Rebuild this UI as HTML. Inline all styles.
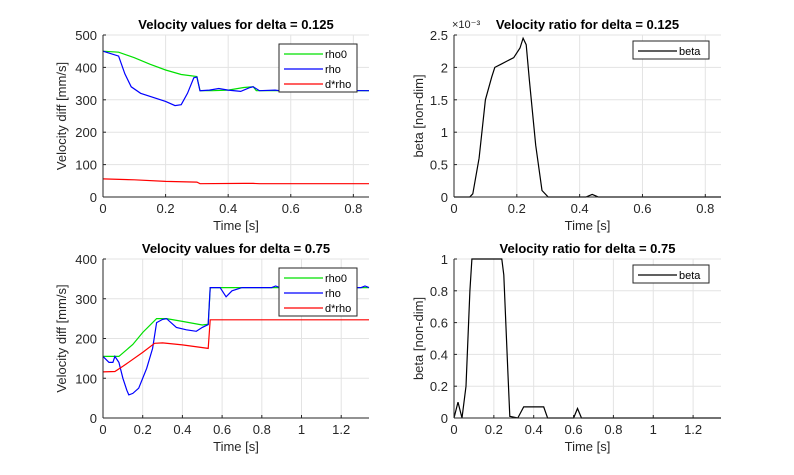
<!DOCTYPE html>
<html><head><meta charset="utf-8"><style>
body{margin:0;background:#fff;width:794px;height:470px;overflow:hidden}
svg{font-family:"Liberation Sans",sans-serif}
</style></head><body>
<svg id="fig" width="794" height="470" xmlns="http://www.w3.org/2000/svg"></svg>
<script>
// ---- data ----
const tlRho0=[[0,450],[0.05,447],[0.1,430],[0.15,410],[0.2,392],[0.25,378],[0.3,372],[0.31,328],[0.35,328],[0.4,330],[0.45,338],[0.48,340],[0.49,328],[0.6,328],[0.85,328]];
const tlRho=[[0,450],[0.05,435],[0.07,380],[0.09,340],[0.12,320],[0.2,295],[0.23,282],[0.25,285],[0.27,320],[0.29,368],[0.3,370],[0.31,328],[0.34,330],[0.37,335],[0.4,330],[0.44,326],[0.47,338],[0.48,340],[0.5,328],[0.55,330],[0.58,326],[0.6,330],[0.85,328]];
const tlDrho=[[0,56],[0.1,53],[0.2,48],[0.3,46],[0.31,41],[0.45,42],[0.48,42],[0.5,41],[0.85,41]];
const blRho0=[[0,155],[0.08,155],[0.15,185],[0.2,215],[0.27,250],[0.32,250],[0.4,243],[0.5,234],[0.53,236],[0.54,328],[0.6,328],[1.34,328]];
const blRho=[[0,155],[0.03,140],[0.05,140],[0.06,155],[0.08,140],[0.1,100],[0.12,70],[0.13,58],[0.15,62],[0.18,75],[0.22,125],[0.25,175],[0.27,240],[0.3,248],[0.32,250],[0.37,228],[0.42,222],[0.47,218],[0.5,228],[0.53,235],[0.54,328],[0.59,328],[0.62,305],[0.65,320],[0.7,328],[0.85,328],[0.87,332],[0.9,326],[1.0,328],[1.3,328],[1.32,332],[1.34,328]];
const blDrho=[[0,116],[0.06,117],[0.1,130],[0.2,165],[0.26,188],[0.3,189],[0.4,184],[0.53,175],[0.54,247],[1.34,247]];
const trBeta=[[0,0],[0.05,0],[0.06,0.05],[0.08,0.6],[0.1,1.5],[0.12,1.85],[0.13,2.0],[0.15,2.05],[0.17,2.1],[0.19,2.15],[0.21,2.3],[0.22,2.45],[0.23,2.35],[0.24,1.8],[0.26,0.8],[0.28,0.1],[0.3,0],[0.42,0],[0.44,0.04],[0.46,0],[0.85,0]];
const brBeta=[[0,0],[0.02,0.1],[0.03,0.05],[0.04,0],[0.06,0.2],[0.08,0.8],[0.09,1],[0.24,1],[0.25,0.9],[0.27,0.3],[0.28,0.01],[0.32,0],[0.35,0.07],[0.45,0.07],[0.47,0],[0.6,0],[0.62,0.06],[0.64,0],[1.34,0]];
const xTicksTop=[0,0.2,0.4,0.6,0.8];
const xTicksBot=[0,0.2,0.4,0.6,0.8,1,1.2];
const yTicksTL=[0,100,200,300,400,500];
const yTicksBL=[0,100,200,300,400];
const yTicksTR=[0,0.5,1,1.5,2,2.5];
const yTicksBR=[0,0.2,0.4,0.6,0.8,1];

const svg=document.getElementById('fig');
const NS='http://www.w3.org/2000/svg';
function mk(tag,attrs,parent){const e=document.createElementNS(NS,tag);for(const k in attrs)e.setAttribute(k,attrs[k]);(parent||svg).appendChild(e);return e;}

function axes(o){
  const g=mk('g',{});
  
  
  const sx=v=>o.x0+(v-o.xmin)/(o.xmax-o.xmin)*(o.x1-o.x0);
  const sy=v=>o.y1-(v-o.ymin)/(o.ymax-o.ymin)*(o.y1-o.y0);
  mk('rect',{x:o.x0,y:o.y0,width:o.x1-o.x0,height:o.y1-o.y0,fill:'#fff'},g);
  o.xt.forEach(t=>{const x=sx(t);
    mk('line',{x1:x,x2:x,y1:o.y0,y2:o.y1,stroke:'#e3e3e3','stroke-width':1},g);
    mk('line',{x1:x,x2:x,y1:o.y1,y2:o.y1-3,stroke:'#262626'},g);
    const tx=mk('text',{x:x,y:o.y1+16,'font-size':13,'text-anchor':'middle',fill:'#262626'},g);tx.textContent=String(t);
    
    });
  o.yt.forEach(t=>{const y=sy(t);
    mk('line',{x1:o.x0,x2:o.x1,y1:y,y2:y,stroke:'#e3e3e3','stroke-width':1},g);
    mk('line',{x1:o.x0,x2:o.x0+3,y1:y,y2:y,stroke:'#262626'},g);
    const tx=mk('text',{x:o.x0-6,y:y+5,'font-size':13,'text-anchor':'end',fill:'#262626'},g);tx.textContent=String(t);
    
    });
  o.series.forEach(s=>{
    const p=mk('polyline',{points:s.d.map(d=>sx(d[0]).toFixed(1)+','+sy(d[1]).toFixed(1)).join(' '),fill:'none',stroke:s.c,'stroke-width':1.2},g);
    
    });
  mk('line',{x1:o.x0,x2:o.x1,y1:o.y1,y2:o.y1,stroke:'#262626'},g);
  mk('line',{x1:o.x0,x2:o.x0,y1:o.y0,y2:o.y1,stroke:'#262626'},g);
  const ti=mk('text',{x:(o.x0+o.x1)/2,y:o.y0-6,'font-size':13,'font-weight':'bold','text-anchor':'middle',fill:'#000','xml:space':'preserve'},g);ti.textContent=o.title;
  
  
  const xl=mk('text',{x:(o.x0+o.x1)/2,y:o.y1+33,'font-size':13,'text-anchor':'middle',fill:'#262626'},g);xl.textContent='Time [s]';
  
  
  const yl=mk('text',{x:0,y:0,'font-size':13,'text-anchor':'middle',fill:'#262626',transform:`translate(${o.x0-o.yoff},${(o.y0+o.y1)/2}) rotate(-90)`},g);yl.textContent=o.ylab;
  
  
  const L=o.leg;const lg=mk('g',{},g);
  
  
  mk('rect',{x:L.x,y:L.y,width:L.w,height:o.series.length*15+3,fill:'#fff',stroke:'#262626'},lg);
  o.series.forEach((s,i)=>{const yy=L.y+10+i*15;
    mk('line',{x1:L.x+5,x2:L.x+44,y1:yy,y2:yy,stroke:s.c,'stroke-width':1.2},lg);
    const t=mk('text',{x:L.x+46,y:yy+4,'font-size':11,fill:'#000'},lg);t.textContent=s.n;
    
    });
  if(o.exp){const e=mk('text',{x:o.x0-2,y:o.y0-7,'font-size':11,fill:'#262626'},g);e.textContent='×10⁻³';
    
    }
}
axes({name:'plot-top-left',x0:103,x1:369,y0:35,y1:197,xmin:0,xmax:0.85,ymin:0,ymax:500,xt:xTicksTop,yt:yTicksTL,yoff:37,title:'Velocity values for  delta = 0.125',ylab:'Velocity diff [mm/s]',leg:{x:279,y:44,w:78},
  series:[{n:'rho0',c:'#00e000',d:tlRho0},{n:'rho',c:'#0000ff',d:tlRho},{n:'d*rho',c:'#ff0000',d:tlDrho}]});
axes({name:'plot-bottom-left',x0:103,x1:369,y0:259,y1:418,xmin:0,xmax:1.34,ymin:0,ymax:400,xt:xTicksBot,yt:yTicksBL,yoff:37,title:'Velocity values for delta = 0.75',ylab:'Velocity diff [mm/s]',leg:{x:279,y:268,w:78},
  series:[{n:'rho0',c:'#00e000',d:blRho0},{n:'rho',c:'#0000ff',d:blRho},{n:'d*rho',c:'#ff0000',d:blDrho}]});
axes({name:'plot-top-right',x0:454,x1:721,y0:35,y1:197,xmin:0,xmax:0.85,ymin:0,ymax:2.5,xt:xTicksTop,yt:yTicksTR,yoff:31,title:'      Velocity ratio for delta = 0.125',ylab:'beta [non-dim]',exp:true,leg:{x:633,y:41,w:76},
  series:[{n:'beta',c:'#000',d:trBeta}]});
axes({name:'plot-bottom-right',x0:454,x1:721,y0:259,y1:418,xmin:0,xmax:1.34,ymin:0,ymax:1,xt:xTicksBot,yt:yTicksBR,yoff:31,title:'Velocity ratio for delta = 0.75',ylab:'beta [non-dim]',leg:{x:633,y:265,w:76},
  series:[{n:'beta',c:'#000',d:brBeta}]});
</script>
</body></html>
